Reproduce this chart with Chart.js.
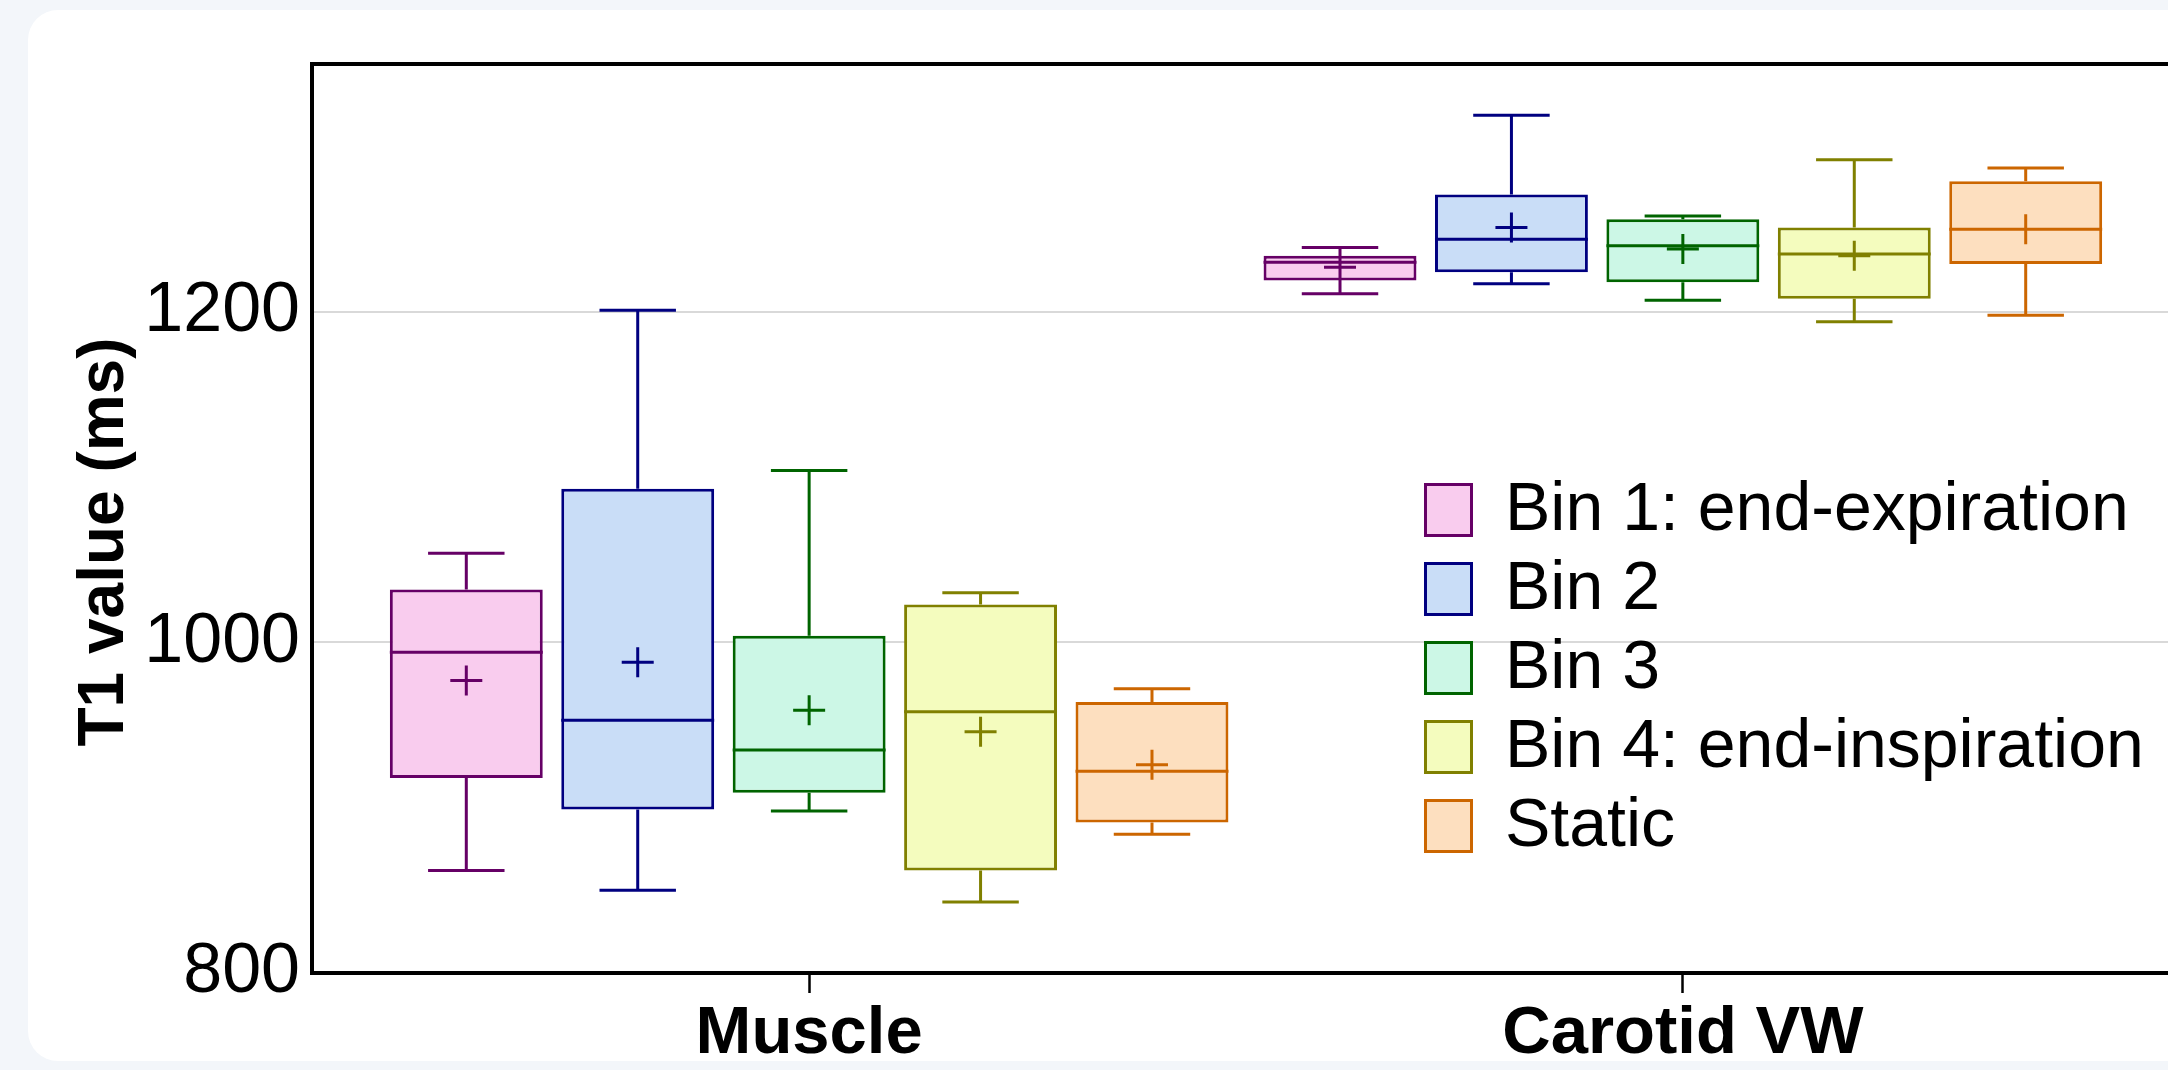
<!DOCTYPE html>
<html>
<head>
<meta charset="utf-8">
<title>T1 value box plot</title>
<script src="https://cdn.jsdelivr.net/npm/chart.js@4.4.1/dist/chart.umd.min.js"></script>
<style>
  html, body { margin: 0; padding: 0; }
  body { width: 2168px; height: 1070px; overflow: hidden; background: #f3f6fa; position: relative; }
  .card { position: absolute; left: 28px; top: 10px; width: 2200px; height: 1051px; background: #fff; border-radius: 30px; overflow: hidden; }
  canvas { display: block; }
</style>
</head>
<body>
<div class="card"><canvas id="boxChart" width="2200" height="1051"></canvas></div>
<script>
// categories and series names
const categories = ['Muscle', 'Carotid VW'];
const seriesNames = ['Bin 1: end-expiration', 'Bin 2', 'Bin 3', 'Bin 4: end-inspiration', 'Static'];

// box plot stats, one row per series: [Muscle, Carotid VW]
const whiskerLow  = [[862, 1211], [850, 1217], [898, 1207], [843, 1194], [884, 1198]];
const quartile1   = [[918, 1219], [899, 1224], [909, 1218], [862, 1208], [891, 1229]];
const medians     = [[994, 1230], [953, 1244], [935, 1240], [958, 1235], [922, 1250]];
const quartile3   = [[1032, 1234], [1093, 1271], [1004, 1256], [1023, 1251], [964, 1279]];
const whiskerHigh = [[1054, 1239], [1201, 1319], [1104, 1258], [1030, 1292], [972, 1287]];
const means       = [[977, 1227], [988, 1251], [959, 1238], [946, 1234], [926, 1250]];

// axis ticks
const yTicks = [800, 1000, 1200];
const yTitle = 'T1 value (ms)';

// colours
const lineColors = ['#660066', '#000080', '#006400', '#808000', '#cc6600'];
const fillColors = ['#f9ccee', '#c9ddf7', '#ccf7e6', '#f4fcbe', '#fddfbf'];

const FONT = "'Liberation Sans', Arial, sans-serif";
Chart.defaults.font.family = FONT;
Chart.defaults.color = '#000';

// whiskers, medians and means on top of the boxes
const boxWhiskers = {
    id: 'boxWhiskers',
    afterDatasetsDraw(chart) {
        const ctx = chart.ctx;
        const y = chart.scales.y;
        chart.data.datasets.forEach((ds, s) => {
            const meta = chart.getDatasetMeta(s);
            meta.data.forEach((bar, i) => {
                const { x, width } = bar.getProps(['x', 'width'], true);
                const yLow = y.getPixelForValue(whiskerLow[s][i]);
                const yQ1 = y.getPixelForValue(quartile1[s][i]);
                const yMed = y.getPixelForValue(medians[s][i]);
                const yQ3 = y.getPixelForValue(quartile3[s][i]);
                const yHigh = y.getPixelForValue(whiskerHigh[s][i]);
                const yMean = y.getPixelForValue(means[s][i]);
                const cap = width / 4;

                ctx.save();
                ctx.strokeStyle = lineColors[s];
                ctx.lineWidth = 3;
                ctx.beginPath();
                // upper whisker
                ctx.moveTo(x, yQ3); ctx.lineTo(x, yHigh);
                ctx.moveTo(x - cap, yHigh); ctx.lineTo(x + cap, yHigh);
                // lower whisker
                ctx.moveTo(x, yQ1); ctx.lineTo(x, yLow);
                ctx.moveTo(x - cap, yLow); ctx.lineTo(x + cap, yLow);
                // median
                ctx.moveTo(x - width / 2, yMed); ctx.lineTo(x + width / 2, yMed);
                // mean (+)
                ctx.moveTo(x - 16, yMean); ctx.lineTo(x + 16, yMean);
                ctx.moveTo(x, yMean - 15); ctx.lineTo(x, yMean + 15);
                ctx.stroke();
                ctx.restore();
            });
        });
    }
};

// frame, y title and the legend inside the plot
const decorations = {
    id: 'decorations',
    afterDraw(chart) {
        const ctx = chart.ctx;
        const area = chart.chartArea;

        ctx.save();
        ctx.strokeStyle = '#000';
        ctx.lineWidth = 4;
        ctx.strokeRect(area.left, area.top, area.right - area.left, area.bottom - area.top);

        // y axis title
        ctx.translate(77, 532);
        ctx.rotate(-Math.PI / 2);
        ctx.font = 'bold 64px ' + FONT;
        ctx.fillStyle = '#000';
        ctx.textAlign = 'center';
        ctx.textBaseline = 'middle';
        ctx.fillText(yTitle, 0, 0);
        ctx.restore();

        // legend
        const lx = area.left + 1112;
        const ly = area.top + 419;
        ctx.save();
        ctx.font = '68px ' + FONT;
        ctx.textBaseline = 'middle';
        ctx.textAlign = 'left';
        seriesNames.forEach((name, s) => {
            const top = ly + s * 79;
            ctx.fillStyle = fillColors[s];
            ctx.fillRect(lx, top, 49, 54);
            ctx.strokeStyle = lineColors[s];
            ctx.lineWidth = 3;
            ctx.strokeRect(lx + 1.5, top + 1.5, 46, 51);
            ctx.fillStyle = '#000';
            ctx.fillText(name, lx + 81, top + 28);
        });
        ctx.restore();
    }
};

const ctx = document.getElementById('boxChart').getContext('2d');

const boxChart = new Chart(ctx, {
    type: 'bar',
    data: {
        datasets: seriesNames.map((name, s) => ({
            label: name,
            data: categories.map((c, i) => ({ x: i + 1, y: [quartile1[s][i], quartile3[s][i]] })),
            backgroundColor: fillColors[s],
            borderColor: lineColors[s],
            borderWidth: 3,
            borderSkipped: false,
            categoryPercentage: 0.981,
            barPercentage: 0.892
        }))
    },
    options: {
        responsive: false,
        animation: false,
        layout: {
            padding: { top: 50, right: 48, bottom: 0, left: 0 }
        },
        scales: {
            x: {
                type: 'linear',
                min: 0.431,
                max: 2.569,
                offset: false,
                afterBuildTicks: (scale) => { scale.ticks = categories.map((c, i) => ({ value: i + 1 })); },
                afterFit: (scale) => { scale.height = 88; },
                grid: { offset: false, drawOnChartArea: false, drawTicks: true, tickLength: 20, tickWidth: 2.5, tickColor: '#000' },
                border: { display: true, color: '#000', width: 4 },
                ticks: {
                    callback: (value, index) => categories[index],
                    font: { size: 67, weight: 'bold' },
                    color: '#000',
                    padding: 1,
                    maxRotation: 0,
                    autoSkip: false
                }
            },
            y: {
                min: 800,
                max: 1350,
                afterBuildTicks: (scale) => { scale.ticks = yTicks.map(v => ({ value: v })); },
                afterFit: (scale) => { scale.width = 284; },
                grid: {
                    color: (c) => (c.tick && c.tick.value === 800) ? 'rgba(0,0,0,0)' : '#d9d9d9',
                    lineWidth: 2,
                    drawTicks: false
                },
                border: { display: true, color: '#000', width: 4 },
                ticks: {
                    callback: (value) => String(value),
                    font: { size: 70 },
                    color: '#000',
                    padding: 12
                }
            }
        },
        plugins: {
            legend: { display: false },
            tooltip: { enabled: false }
        }
    },
    plugins: [boxWhiskers, decorations]
});
</script>
</body>
</html>
